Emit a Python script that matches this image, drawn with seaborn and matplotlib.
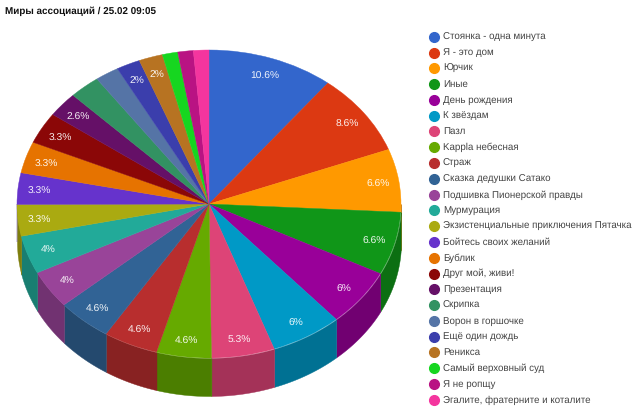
import numpy as np
import matplotlib
matplotlib.use("Agg")
import matplotlib.pyplot as plt
from matplotlib.lines import Line2D
import seaborn as sns

# данные опроса
names = ["Стоянка - одна минута", "Я - это дом", "Юрчик", "Иные", "День рождения",
         "К звёздам", "Пазл", "Kappla небесная", "Страж", "Сказка дедушки Сатако",
         "Подшивка Пионерской правды", "Мурмурация",
         "Экзистенциальные приключения Пятачка", "Бойтесь своих желаний", "Бублик",
         "Друг мой, живи!", "Презентация", "Скрипка", "Ворон в горшочке",
         "Ещё один дождь", "Реникса", "Самый верховный суд", "Я не ропщу",
         "Эгалите, фратерните и коталите"]
percent = [10.6, 8.6, 6.6, 6.6, 6, 6, 5.3, 4.6, 4.6, 4.6, 4, 4,
           3.3, 3.3, 3.3, 3.3, 2.6, 2.6, 2, 2, 2, 1.3, 1.3, 1.3]
shown = ["10.6%", "8.6%", "6.6%", "6.6%", "6%", "6%", "5.3%", "4.6%", "4.6%", "4.6%", "4%", "4%",
         "3.3%", "3.3%", "3.3%", "3.3%", "2.6%", "", "", "2%", "2%", "", "", ""]
colors = ["#3366cc", "#dc3912", "#ff9900", "#109618", "#990099", "#0099c6", "#dd4477", "#66aa00",
          "#b82e2e", "#316395", "#994499", "#22aa99", "#aaaa11", "#6633cc", "#e67300", "#8b0707",
          "#651067", "#329262", "#5574a6", "#3b3eac", "#b77322", "#16d620", "#b91383", "#f4359e"]

W, H = 640, 416
left, right, top, mid_y, bottom = 17, 401, 50, 204, 396

sns.set_theme(style="white")
plt.rcParams["font.family"] = ["Liberation Sans", "DejaVu Sans"]
plt.rcParams["text.hinting"] = "no_hinting"
palette = sns.color_palette(colors)

fig = plt.figure(figsize=(W / 100, H / 100), dpi=100)
ax = fig.add_axes([left / W, 1 - bottom / H, (right - left) / W, (bottom - top) / H])

depth = (bottom - top - 2 * (mid_y - top)) / (mid_y - top)

wedges, texts = ax.pie(percent, colors=palette, labels=shown, startangle=90, counterclock=False,
                       labeldistance=0.89, normalize=True, textprops={"color": "white", "fontsize": 7.4})
for w in wedges:
    w.set_edgecolor(w.get_facecolor())
    w.set_linewidth(0.3)
for t in texts:
    t.set_ha("center")
    t.set_va("center")
    t.set_zorder(5)
    t.set_alpha(0.92)
    # чуть ниже, как в оригинале
    x, y = t.get_position()
    t.set_position((x, y - 0.01))

ax.set_aspect("auto")
ax.set_xlim(-1, 1)
ax.set_ylim(-1 - depth, 1)
ax.axis("off")

# боковая стенка
edges = np.cumsum([0] + percent) / sum(percent) * 2 * np.pi
for a, b, col in zip(edges[:-1], edges[1:], palette):
    a, b = max(a, np.pi / 2), min(b, 3 * np.pi / 2)
    if b <= a:
        continue
    t = np.linspace(a, b, 40)
    dark = tuple(c * 0.74 for c in col)
    ax.fill_between(np.sin(t), np.cos(t), np.cos(t) - depth, color=dark, lw=0.3, zorder=0, clip_on=False)

fig.text(5 / W, 1 - 11 / H, "Миры ассоциаций / 25.02 09:05", fontsize=7.1, fontweight="bold",
         color="#111111", ha="left", va="center")

handles = [Line2D([], [], ls="", marker="o", ms=7, mfc=c, mec=c) for c in palette]
leg_ax = fig.add_axes([0, 0, 1, 1], frameon=False)
leg_ax.axis("off")
leg_ax.legend(handles, names, loc="upper left", bbox_to_anchor=(425 / W, 1 - 32.5 / H), frameon=False,
              fontsize=7, labelcolor="#444444", labelspacing=0.66, handletextpad=0.0,
              handlelength=1.85, handleheight=0.25, borderpad=0, borderaxespad=0)

fig.savefig("out.png", dpi=100)
